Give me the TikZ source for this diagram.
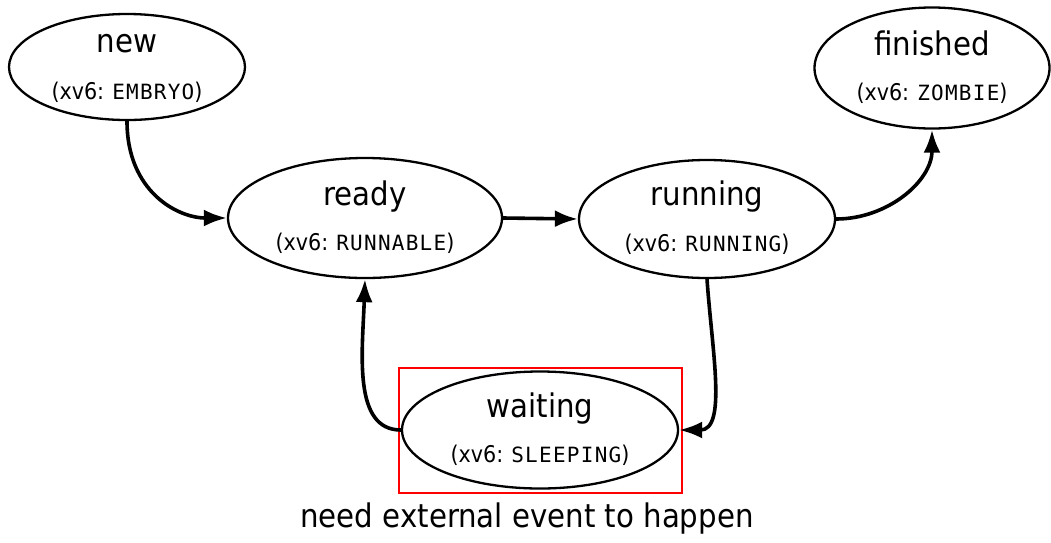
\documentclass[tikz,border=0pt]{standalone}
\usepackage{fontspec}
\setmainfont{DejaVu Sans Condensed}
\setmonofont[LetterSpace=6]{DejaVu Sans Mono}
\usetikzlibrary{shapes.geometric,arrows.meta}

\newcommand{\xvname}[1]{(xv6:\hspace{0.35em}{\fontsize{21}{25}\selectfont\ttfamily #1})}

\tikzset{
  state/.style={draw, ellipse, line width=2.3pt, inner sep=0pt},
  statename/.style={anchor=base, inner sep=0pt, font=\fontsize{32.5}{38}\selectfont},
  statesub/.style={anchor=base, inner sep=0pt, font=\fontsize{23}{27}\selectfont},
  trans/.style={line width=3.6pt, -{Latex[length=23pt,width=17pt]}},
  note/.style={anchor=base, inner sep=0pt, font=\fontsize{32.5}{38}\selectfont},
  highlight/.style={draw=red, line width=2.2pt}
}

\begin{document}
\begin{tikzpicture}[x=1pt, y=-1pt]
\useasboundingbox (0,0) rectangle (1051,542);

% states
\node[state, minimum width=236pt, minimum height=106pt] (new) at (127,67) {};
\node[state, minimum width=274pt, minimum height=120pt] (ready) at (365,218) {};
\node[state, minimum width=256pt, minimum height=118pt] (running) at (707,219) {};
\node[state, minimum width=235pt, minimum height=121pt] (finished) at (932,68) {};
\node[state, minimum width=276pt, minimum height=117pt] (waiting) at (540,430) {};

% state labels (name above the centre, xv6 name below)
\node[statename] (newname) at ([yshift=15pt]new.center) {new};
\node[statesub] (newsub) at ([yshift=-32pt]new.center) {\xvname{EMBRYO}};
\node[statename] (readyname) at ([yshift=13pt]ready.center) {ready};
\node[statesub] (readysub) at ([yshift=-32pt]ready.center) {\xvname{RUNNABLE}};
\node[statename] (runningname) at ([yshift=14pt]running.center) {running};
\node[statesub] (runningsub) at ([yshift=-32pt]running.center) {\xvname{RUNNING}};
\node[statename] (finishedname) at ([yshift=13pt]finished.center) {finished};
\node[statesub] (finishedsub) at ([yshift=-32pt]finished.center) {\xvname{ZOMBIE}};
\node[statename] (waitingname) at ([yshift=13pt]waiting.center) {waiting};
\node[statesub] (waitingsub) at ([yshift=-32pt]waiting.center) {\xvname{SLEEPING}};

% highlight around the waiting state
\node[highlight, inner sep=0pt, minimum width=283pt, minimum height=125pt] (box) at (540.5,430.5) {};
\node[note] (needevent) at (527,527) {need external event to happen};

% transitions
\draw[trans] (new.south) to[out=-90, in=180, out looseness=1.3, in looseness=0.9] (ready.west);
\draw[trans] (ready.east) -- (running.west);
\draw[trans] (running.east) to[out=0, in=-90] (finished.south);
\draw[trans] (running.south) to[out=-86, in=0, out looseness=1.2, in looseness=0.8] (waiting.east);
\draw[trans] (waiting.west) to[out=180, in=-92, in looseness=1.2, out looseness=0.8] (ready.south);
\end{tikzpicture}
\end{document}
